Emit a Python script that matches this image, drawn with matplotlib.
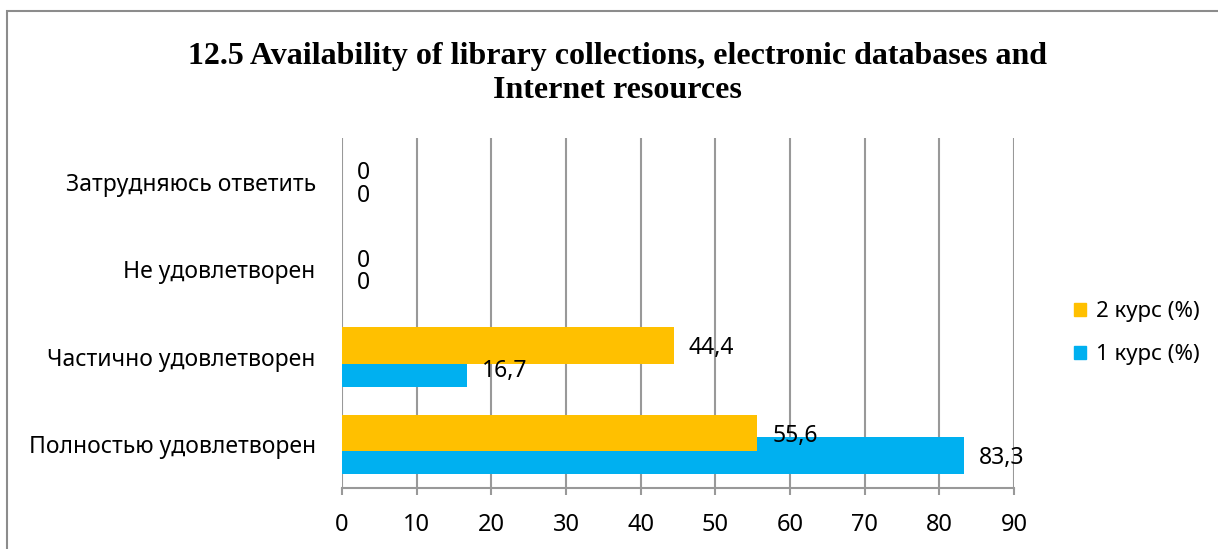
import matplotlib.pyplot as plt
import matplotlib.patches as mpatches
import numpy as np

plt.rcParams['font.family'] = ['Noto Sans', 'DejaVu Sans']

categories = ['Полностью удовлетворен', 'Частично удовлетворен',
              'Не удовлетворен', 'Затрудняюсь ответить']
kurs1 = [83.3, 16.7, 0, 0]
kurs2 = [55.6, 44.4, 0, 0]
labels1 = ['83,3', '16,7', '0', '0']
labels2 = ['55,6', '44,4', '0', '0']
xticks = [0, 10, 20, 30, 40, 50, 60, 70, 80, 90]

fig = plt.figure(figsize=(12.18, 5.49), dpi=100)
ax = fig.add_axes([0.2808, 0.1111, 0.5517, 0.6375])

ind = np.arange(len(categories))
h = 0.42
off = 0.13
b1 = ax.barh(ind - off, kurs1, h, color='#00B0F0', label='1 курс (%)', zorder=2)
b2 = ax.barh(ind + off, kurs2, h, color='#FFC000', label='2 курс (%)', zorder=3)

# value labels next to bar ends
for i in range(len(categories)):
    ax.text(kurs2[i] + 2.0, ind[i] + off - 0.03, labels2[i], ha='left', va='center',
            fontsize=16.5, zorder=4)
    ax.text(kurs1[i] + 2.0, ind[i] - off - 0.03, labels1[i], ha='left', va='center',
            fontsize=16.5, zorder=4)

ax.set_xlim(0, 90)
ax.set_ylim(-0.5, 3.5)
ax.set_xticks(xticks)
ax.set_xticklabels([str(x) for x in xticks], fontsize=17)
ax.set_yticks(ind)
ax.set_yticklabels(categories, fontsize=16.5)
ax.grid(axis='x', color='#999999', linewidth=1.5, zorder=0)
ax.set_axisbelow(True)
for s in ['top', 'right', 'left']:
    ax.spines[s].set_visible(False)
ax.spines['bottom'].set_color('#999999')
ax.spines['bottom'].set_linewidth(1.5)
ax.tick_params(axis='x', length=5, color='#999999', width=1.5, pad=13)
ax.tick_params(axis='y', length=0, pad=19)

fig.text(0.507, 0.866, '12.5 Availability of library collections, electronic databases and\nInternet resources',
         ha='center', va='center', fontsize=23, fontweight='bold',
         family='Liberation Serif', linespacing=1.22)

handles = [mpatches.Patch(color='#FFC000'), mpatches.Patch(color='#00B0F0')]
fig.legend(handles, ['2 курс (%)', '1 курс (%)'], loc='center left',
           bbox_to_anchor=(0.882, 0.393), frameon=False, fontsize=16,
           handlelength=0.55, handleheight=0.55, handletextpad=0.45, labelspacing=1.0,
           borderpad=0, borderaxespad=0)

# outer chart border
frame = mpatches.Rectangle((7 / 1218, -0.05), 1.2, 1 - 11 / 549 + 0.05,
                           transform=fig.transFigure, fill=False,
                           edgecolor='#8c8c8c', linewidth=1.5, clip_on=False)
fig.patches.append(frame)

fig.savefig('out.png', dpi=100)
